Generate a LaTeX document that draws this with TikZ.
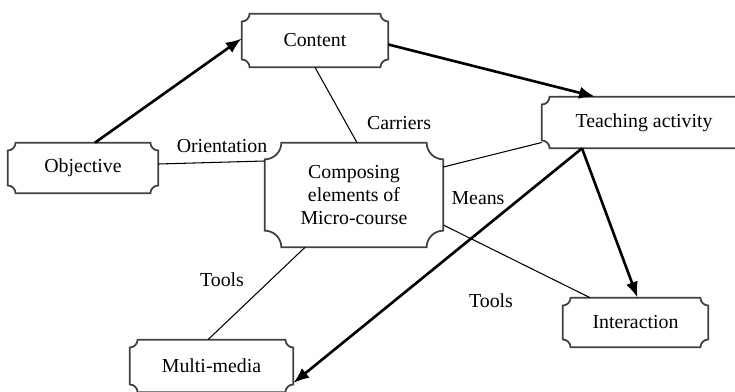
\documentclass[tikz,border=0pt]{standalone}
\usepackage{fontspec}
\setmainfont{Liberation Serif}
\usetikzlibrary{calc,arrows.meta}

\tikzset{
  elem/.style={inner sep=0pt, align=center},
  frame/.style={draw=black!75, line width=1pt},
  link/.style={line width=0.6pt},
  flow/.style={line width=1.5pt, -{Latex[length=9pt,width=7pt]}},
  lbl/.style={inner sep=1pt}
}
% concave corners round a node: name, corner radius
\newcommand\plaqueframe[2]{%
  \draw[frame] ($(#1.north west)+(#2,0pt)$) -- ($(#1.north east)+(-#2,0pt)$)
    arc[start angle=180, end angle=270, radius=#2]
    -- ($(#1.south east)+(0pt,#2)$)
    arc[start angle=90, end angle=180, radius=#2]
    -- ($(#1.south west)+(#2,0pt)$)
    arc[start angle=0, end angle=90, radius=#2]
    -- ($(#1.north west)+(0pt,-#2)$)
    arc[start angle=270, end angle=360, radius=#2] -- cycle;
}

\begin{document}
\begin{tikzpicture}[x=0.02cm, y=-0.02cm, font=\fontsize{11.3}{13}\selectfont]
        \useasboundingbox (0,0) rectangle (735,392);

        % Elements.
        \node[elem, minimum width=2.92cm, minimum height=1.06cm] (cont) at (315,40.5) {Content};
        \node[elem, minimum width=3.00cm, minimum height=1.00cm] (obj) at (83,168) {Objective};
        \node[elem, minimum width=3.56cm, minimum height=2.08cm] (cent) at (354,195) {Composing\\elements of\\Micro-course};
        \node[elem, minimum width=4.08cm, minimum height=1.02cm] (teach) at (644,122.5) {Teaching activity};
        \node[elem, minimum width=2.90cm, minimum height=0.98cm] (inter) at (635.5,322.5) {Interaction};
        \node[elem, minimum width=3.26cm, minimum height=1.04cm] (mm) at (211.5,366) {Multi-media};

        \plaqueframe{cont}{4.5pt}
        \plaqueframe{obj}{4.5pt}
        \plaqueframe{cent}{9.5pt}
        \plaqueframe{teach}{4.5pt}
        \plaqueframe{inter}{4.5pt}
        \plaqueframe{mm}{4.5pt}

        % Labels.
        \node[lbl] (orient) at (222,146) {Orientation};
        \node[lbl] (carr) at (399,123) {Carriers};
        \node[lbl] (means) at (478,198) {Means};
        \node[lbl] (toolsl) at (222,280) {Tools};
        \node[lbl] (toolsr) at (491,301) {Tools};

        % Thin links.
        \draw[link] (cont.south) -- ($(cent.north)+(3,0)$);
        \draw[link] ($(obj.east)+(0,-4)$) -- ($(cent.west)+(0,-34)$);
        \draw[link] ($(cent.east)+(0,-28)$) -- ($(teach.west)+(0,20)$);
        \draw[link] ($(cent.east)+(0,30)$) -- ($(inter.north)+(-45.5,0)$);
        \draw[link] ($(cent.south)+(-49,0)$) -- ($(mm.north)+(-3.5,0)$);

        % Thick arrows.
        \draw[flow] ($(obj.north)+(12,0)$) -- ($(cont.west)+(0,-2)$);
        \draw[flow] ($(cont.east)+(0,4)$) -- ($(teach.north)+(-49,0)$);
        \draw[flow] ($(teach.south)+(-62,0)$) -- ($(mm.east)+(0,17)$);
        \draw[flow] ($(teach.south)+(-62,0)$) -- ($(inter.north)+(2,0)$);

    \end{tikzpicture}
\end{document}
